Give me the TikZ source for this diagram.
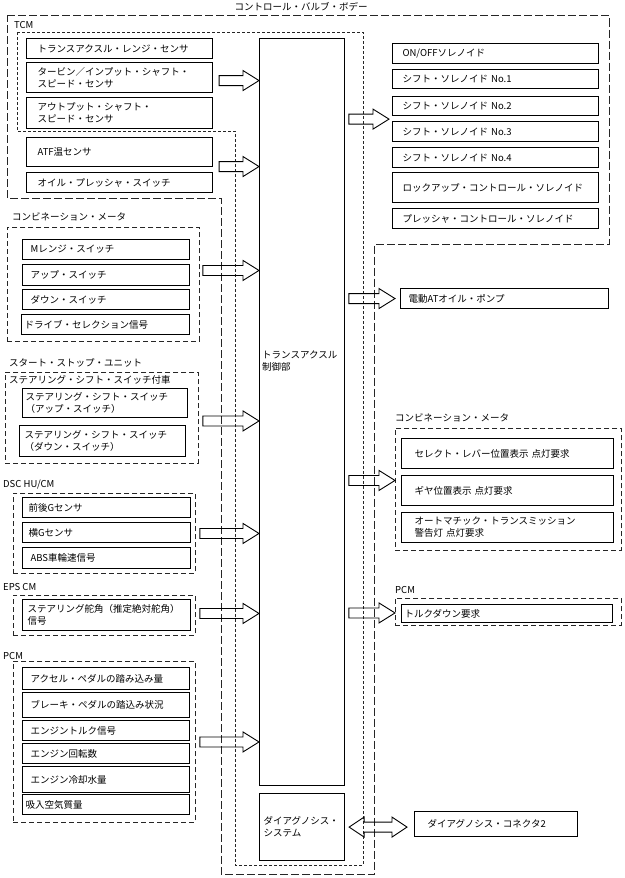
\documentclass[tikz,border=0pt]{standalone}
\usepackage{fontspec}
\setmainfont{Noto Sans CJK JP}
\usetikzlibrary{calc}
\newcommand{\fatarrow}[2]{%
  \draw[barrow] let \p1=#1, \p2=#2 in
    (\x1,\y1+5pt) -- (\x2-16pt,\y1+5pt) -- (\x2-16pt,\y1+10pt) -- (\x2,\y1)
    -- (\x2-16pt,\y1-10pt) -- (\x2-16pt,\y1-5pt) -- (\x1,\y1-5pt) -- cycle;}
\newcommand{\dblfatarrow}[2]{%
  \draw[barrow] let \p1=#1, \p2=#2 in
    (\x1,\y1) -- (\x1+15pt,\y1+10pt) -- (\x1+15pt,\y1+5pt) -- (\x2-15pt,\y1+5pt)
    -- (\x2-15pt,\y1+10pt) -- (\x2,\y1) -- (\x2-15pt,\y1-10pt) -- (\x2-15pt,\y1-5pt)
    -- (\x1+15pt,\y1-5pt) -- (\x1+15pt,\y1-10pt) -- cycle;}
\begin{document}
\begin{tikzpicture}[x=1pt,y=-1pt,
    font=\fontsize{9.5}{12}\selectfont,
    sig/.style={draw,line width=1.1pt,anchor=north west,inner ysep=0pt,align=left},
    grp/.style={draw,black!85,dash pattern=on 5pt off 3pt,line width=0.9pt,anchor=north west,inner sep=0pt},
    lbl/.style={anchor=west,inner sep=0pt,align=left},
    barrow/.style={draw,line width=0.9pt}]
    \useasboundingbox (0,0) rectangle (624,878);

    \draw[black!85,dash pattern=on 8pt off 3pt,line width=0.9pt] (7,15.5) -- (609,15.5) -- (609,244) -- (374,244)
        -- (374,874) -- (221,874) -- (221,198) -- (7,198) -- cycle;
    \node (vbLbl) at (301,7) {コントロール・バルブ・ボデー};
    \draw[black!85,dash pattern=on 3pt off 2pt,line width=0.8pt] (17,32) -- (363,32) -- (363,865) -- (235,865)
        -- (235,131) -- (17,131) -- cycle;
    \node[lbl] (tcmLbl) at (14,25) {TCM};

    \node[sig,text width=164pt,inner xsep=11pt,minimum height=20pt] (tb1) at (26,38) {トランスアクスル・レンジ・センサ};
    \node[sig,text width=164pt,inner xsep=11pt,minimum height=30pt] (tb2) at (26,62) {タービン／インプット・シャフト・\\スピード・センサ};
    \node[sig,text width=164pt,inner xsep=11pt,minimum height=31pt] (tb3) at (26,97) {アウトプット・シャフト・\\スピード・センサ};
    \node[sig,text width=164pt,inner xsep=11pt,minimum height=29pt] (tb4) at (26,137) {ATF温センサ};
    \node[sig,text width=164pt,inner xsep=11pt,minimum height=20pt] (tb5) at (26,172) {オイル・プレッシャ・スイッチ};

    \node[draw,line width=0.9pt,anchor=north west,minimum width=85pt,minimum height=747pt,inner sep=0pt] (ctrl) at (259,38) {};
    \node[lbl,anchor=north west] (ctrlLbl) at (262,351) {トランスアクスル\\制御部};
    \node[sig,text width=77pt,inner xsep=4pt,minimum height=67pt] (dia) at (259,793) {ダイアグノシス・\\システム};

    \node[lbl] (cmLLbl) at (12,217) {コンビネーション・メータ};
    \node[grp,minimum width=192pt,minimum height=114pt] (cmL) at (7,227) {};
    \node[sig,text width=151pt,inner xsep=8pt,minimum height=20pt] (msw) at (22,239) {Mレンジ・スイッチ};
    \node[sig,text width=151pt,inner xsep=8pt,minimum height=21pt] (usw) at (22,264) {アップ・スイッチ};
    \node[sig,text width=151pt,inner xsep=8pt,minimum height=20pt] (dsw) at (22,289) {ダウン・スイッチ};
    \node[sig,text width=162pt,inner xsep=3pt,minimum height=20pt] (drv) at (21,314) {ドライブ・セレクション信号};

    \node[lbl] (ssuLbl) at (9,363) {スタート・ストップ・ユニット};
    \node[grp,minimum width=193pt,minimum height=91pt] (ssu) at (5,372) {};
    \node[lbl] (ssuSub) at (9,380) {ステアリング・シフト・スイッチ付車};
    \node[sig,text width=159pt,inner xsep=3pt,minimum height=29pt] (ssUp) at (22,388) {ステアリング・シフト・スイッチ\\（アップ・スイッチ）};
    \node[sig,text width=156pt,inner xsep=5pt,minimum height=31pt] (ssDn) at (19,425) {ステアリング・シフト・スイッチ\\（ダウン・スイッチ）};

    \node[lbl] (dscLbl) at (3,485) {DSC HU/CM};
    \node[grp,minimum width=182pt,minimum height=80pt] (dsc) at (13,493) {};
    \node[sig,text width=156pt,inner xsep=6pt,minimum height=20pt] (fgs) at (22,497) {前後Gセンサ};
    \node[sig,text width=156pt,inner xsep=6pt,minimum height=20pt] (ygs) at (22,522) {横Gセンサ};
    \node[sig,text width=152pt,inner xsep=8pt,minimum height=21pt] (abs) at (22,547) {ABS車輪速信号};

    \node[lbl] (epsLbl) at (3,587) {EPS CM};
    \node[grp,minimum width=182pt,minimum height=40pt] (eps) at (13,595) {};
    \node[sig,text width=158pt,inner xsep=5pt,minimum height=31pt] (sang) at (22,599) {ステアリング舵角（推定絶対舵角）\\信号};

    \node[lbl] (pcmLLbl) at (3,656) {PCM};
    \node[grp,minimum width=182pt,minimum height=161pt] (pcmL) at (13,661) {};
    \node[sig,text width=151pt,inner xsep=8pt,minimum height=22pt] (acc) at (22,667) {アクセル・ペダルの踏み込み量};
    \node[sig,text width=151pt,inner xsep=8pt,minimum height=25pt] (brk) at (22,692) {ブレーキ・ペダルの踏込み状況};
    \node[sig,text width=151pt,inner xsep=8pt,minimum height=20pt] (etq) at (22,720) {エンジントルク信号};
    \node[sig,text width=151pt,inner xsep=8pt,minimum height=20pt] (erpm) at (22,743) {エンジン回転数};
    \node[sig,text width=151pt,inner xsep=8pt,minimum height=26pt] (ecool) at (22,766) {エンジン冷却水量};
    \node[sig,text width=161pt,inner xsep=3pt,minimum height=20pt] (air) at (22,794) {吸入空気質量};

    \node[sig,text width=186pt,inner xsep=10pt,minimum height=20pt] (s0) at (392,43) {ON/OFFソレノイド};
    \node[sig,text width=186pt,inner xsep=10pt,minimum height=19pt] (s1) at (392,69) {シフト・ソレノイド No.1};
    \node[sig,text width=186pt,inner xsep=10pt,minimum height=19pt] (s2) at (392,96) {シフト・ソレノイド No.2};
    \node[sig,text width=186pt,inner xsep=10pt,minimum height=20pt] (s3) at (392,121) {シフト・ソレノイド No.3};
    \node[sig,text width=186pt,inner xsep=10pt,minimum height=20pt] (s4) at (392,147) {シフト・ソレノイド No.4};
    \node[sig,text width=186pt,inner xsep=10pt,minimum height=30pt] (s5) at (392,172) {ロックアップ・コントロール・ソレノイド};
    \node[sig,text width=186pt,inner xsep=10pt,minimum height=20pt] (s6) at (392,208) {プレッシャ・コントロール・ソレノイド};

    \node[sig,text width=192pt,inner xsep=8pt,minimum height=20pt] (pump) at (400,288) {電動ATオイル・ポンプ};

    \node[lbl] (cmRLbl) at (395,418) {コンビネーション・メータ};
    \node[grp,minimum width=226pt,minimum height=122pt] (cmR) at (395,428) {};
    \node[sig,text width=186pt,inner xsep=13pt,minimum height=30pt] (selr) at (401,438) {セレクト・レバー位置表示 点灯要求};
    \node[sig,text width=186pt,inner xsep=13pt,minimum height=30pt] (gear) at (401,475) {ギヤ位置表示 点灯要求};
    \node[sig,text width=186pt,inner xsep=13pt,minimum height=30pt] (atw) at (401,512) {オートマチック・トランスミッション\\警告灯 点灯要求};

    \node[lbl] (pcmRLbl) at (395,590) {PCM};
    \node[grp,minimum width=226pt,minimum height=27pt] (pcmR) at (395,598) {};
    \node[sig,text width=205pt,inner xsep=3pt,minimum height=18pt] (tqd) at (401,604) {トルクダウン要求};

    \node[sig,text width=137pt,inner xsep=13pt,minimum height=25pt] (dcon) at (414,811) {ダイアグノシス・コネクタ2};

    \fatarrow{($(tb2.east)+(6,3)$)}{(ctrl.west)}
    \fatarrow{($(tb4.south east)!0.5!(tb5.north east)+(6,-3)$)}{(ctrl.west)}
    \fatarrow{($(cmL.east)+(3,-14)$)}{(ctrl.west)}
    \fatarrow{($(ssu.east)+(4,3)$)}{(ctrl.west)}
    \fatarrow{($(dsc.east)+(4,0)$)}{(ctrl.west)}
    \fatarrow{($(eps.east)+(4,-2)$)}{(ctrl.west)}
    \fatarrow{($(pcmL.east)+(4,0)$)}{(ctrl.west)}
    \fatarrow{($(ctrl.east |- s2.south)+(4,3)$)}{($(s3.west)+(-3,0)$)}
    \fatarrow{($(ctrl.east |- pump.west)+(4,0)$)}{($(pump.west)+(-5,0)$)}
    \fatarrow{($(ctrl.east |- cmR.west)+(4,-9)$)}{(cmR.west)}
    \fatarrow{($(ctrl.east |- pcmR.west)+(4,1)$)}{(pcmR.west)}
    \dblfatarrow{($(dia.east)+(4,0)$)}{($(dcon.west)+(-7,0)$)}
\end{tikzpicture}
\end{document}
